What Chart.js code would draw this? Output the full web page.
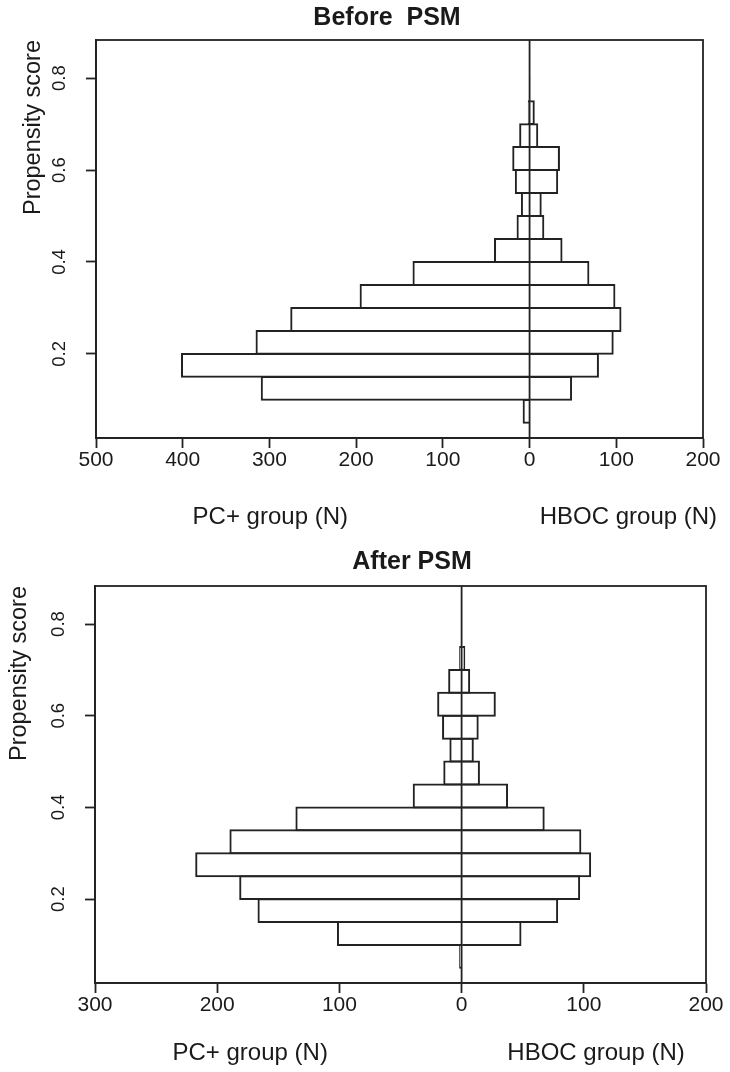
<!DOCTYPE html>
<html>
<head>
<meta charset="utf-8">
<title>Propensity score distribution before and after PSM</title>
<script src="https://cdn.jsdelivr.net/npm/chart.js@4.4.1/dist/chart.umd.min.js"></script>
<style>
    body { margin: 0; background: #fff; }
    .panel { position: absolute; left: 0; width: 730px; }
</style>
</head>
<body>
<div class="panel" style="top:0;height:540px"><canvas id="beforeChart" width="730" height="540"></canvas></div>
<div class="panel" style="top:540px;height:532px"><canvas id="afterChart" width="730" height="532"></canvas></div>
<script>
// Propensity score bins (width 0.05), listed by midpoint from top to bottom
const binMids = [0.775, 0.725, 0.675, 0.625, 0.575, 0.525, 0.475, 0.425, 0.375, 0.325, 0.275, 0.225, 0.175, 0.125, 0.075];

// Before PSM counts
const beforePC   = [0, 2, 12, 20, 17, 10, 15, 41, 135, 196, 276, 316, 402, 310, 8];
const beforeHBOC = [1, 6, 10, 35, 33, 14, 17, 38, 69, 99, 106, 97, 80, 49, 0];

// After PSM counts
const afterPC   = [0, 2, 11, 20, 16, 10, 15, 40, 136, 190, 218, 182, 167, 102, 2];
const afterHBOC = [0, 3, 7, 28, 14, 10, 15, 38, 68, 98, 106, 97, 79, 49, 0];

// Axis ticks (negative side = PC+ group)
const beforeXTicks = [-500, -400, -300, -200, -100, 0, 100, 200];
const afterXTicks = [-300, -200, -100, 0, 100, 200];
const yTicks = [0.2, 0.4, 0.6, 0.8];

const LINE = '#222';
const TEXT = '#1a1a1a';
const FONT = "'Liberation Sans', Arial, Helvetica, sans-serif";

// Draws the box, the zero line, the panel title and the two group labels
const panelFrame = {
    id: 'panelFrame',
    afterDatasetsDraw(chart, args, opts) {
        const {ctx, chartArea} = chart;
        const x0 = chart.scales.x.getPixelForValue(0);
        ctx.save();
        ctx.strokeStyle = LINE;
        ctx.lineWidth = 1.8;
        ctx.beginPath();
        ctx.moveTo(x0, chartArea.top);
        ctx.lineTo(x0, chartArea.bottom);
        ctx.stroke();
        ctx.strokeRect(chartArea.left, chartArea.top, chartArea.width, chartArea.height);
        ctx.restore();
    },
    afterDraw(chart, args, opts) {
        const {ctx} = chart;
        ctx.save();
        ctx.fillStyle = TEXT;
        ctx.textAlign = 'center';
        ctx.textBaseline = 'middle';
        ctx.font = 'bold 25px ' + FONT;
        ctx.fillText(opts.title, opts.titleX, opts.titleY);
        ctx.font = '24px ' + FONT;
        opts.groups.forEach(g => {
            ctx.fillText(g.text, chart.scales.x.getPixelForValue(g.at), opts.groupY);
        });
        ctx.restore();
    }
};

function makePanel(id, pc, hboc, xTicks, cfg) {
    const ctx = document.getElementById(id).getContext('2d');
    const barStyle = {
        backgroundColor: 'rgba(0,0,0,0)',
        borderColor: LINE,
        borderWidth: 2,
        borderSkipped: 'start',   // the zero line draws the shared base edge
        grouped: false,
        categoryPercentage: 1,
        barPercentage: 1.085
    };
    return new Chart(ctx, {
        type: 'bar',
        data: {
            datasets: [
                Object.assign({ label: 'PC+ group', data: binMids.map((m, i) => ({ x: -pc[i], y: m })) }, barStyle),
                Object.assign({ label: 'HBOC group', data: binMids.map((m, i) => ({ x: hboc[i], y: m })) }, barStyle)
            ]
        },
        options: {
            indexAxis: 'y',
            responsive: false,
            animation: false,
            devicePixelRatio: 1,
            layout: { padding: { top: cfg.top, right: cfg.right, left: 0, bottom: 0 } },
            scales: {
                x: {
                    type: 'linear',
                    min: xTicks[0],
                    max: xTicks[xTicks.length - 1],
                    afterBuildTicks: s => { s.ticks = xTicks.map(v => ({ value: v })); },
                    afterFit: s => { s.height = cfg.xHeight; },
                    grid: { drawOnChartArea: false, drawTicks: true, tickLength: 10, tickWidth: 1.8, tickColor: LINE },
                    border: { display: true, color: LINE, width: 1.8 },
                    ticks: {
                        callback: v => Math.abs(v),
                        font: { family: FONT, size: 21 },
                        color: TEXT,
                        padding: 0,
                        maxRotation: 0
                    }
                },
                y: {
                    type: 'linear',
                    offset: false,
                    min: 0.017,
                    max: 0.883,
                    afterBuildTicks: s => { s.ticks = yTicks.map(v => ({ value: v })); },
                    afterFit: s => { s.width = cfg.left; },
                    grid: { offset: false, drawOnChartArea: false, drawTicks: true, tickLength: 10, tickWidth: 1.8, tickColor: LINE },
                    border: { display: true, color: LINE, width: 1.8 },
                    ticks: {
                        callback: v => v.toFixed(1),
                        font: { family: FONT, size: 18.5 },
                        color: TEXT,
                        minRotation: 90,
                        maxRotation: 90,
                        crossAlign: 'center',
                        padding: 13
                    },
                    title: {
                        display: true,
                        text: 'Propensity score',
                        align: 'end',
                        color: TEXT,
                        font: { family: FONT, size: 23.5 },
                        padding: { top: cfg.yTitlePad, bottom: 0 }
                    }
                }
            },
            plugins: {
                legend: { display: false },
                tooltip: { enabled: false },
                colors: { enabled: false },
                panelFrame: {
                    title: cfg.title,
                    titleX: cfg.titleX,
                    titleY: cfg.titleY,
                    groupY: cfg.groupY,
                    groups: [
                        { text: 'PC+ group (N)', at: cfg.pcLabelAt },
                        { text: 'HBOC group (N)', at: cfg.hbocLabelAt }
                    ]
                }
            }
        },
        plugins: [panelFrame]
    });
}

makePanel('beforeChart', beforePC, beforeHBOC, beforeXTicks, {
    top: 40, right: 27, left: 96, xHeight: 102, yTitlePad: 19,
    title: 'Before  PSM', titleX: 387, titleY: 18,
    groupY: 517, pcLabelAt: -299, hbocLabelAt: 114
});

makePanel('afterChart', afterPC, afterHBOC, afterXTicks, {
    top: 46, right: 24, left: 95, xHeight: 89, yTitlePad: 5,
    title: 'After PSM', titleX: 412, titleY: 22,
    groupY: 513, pcLabelAt: -173, hbocLabelAt: 110
});
</script>
</body>
</html>
